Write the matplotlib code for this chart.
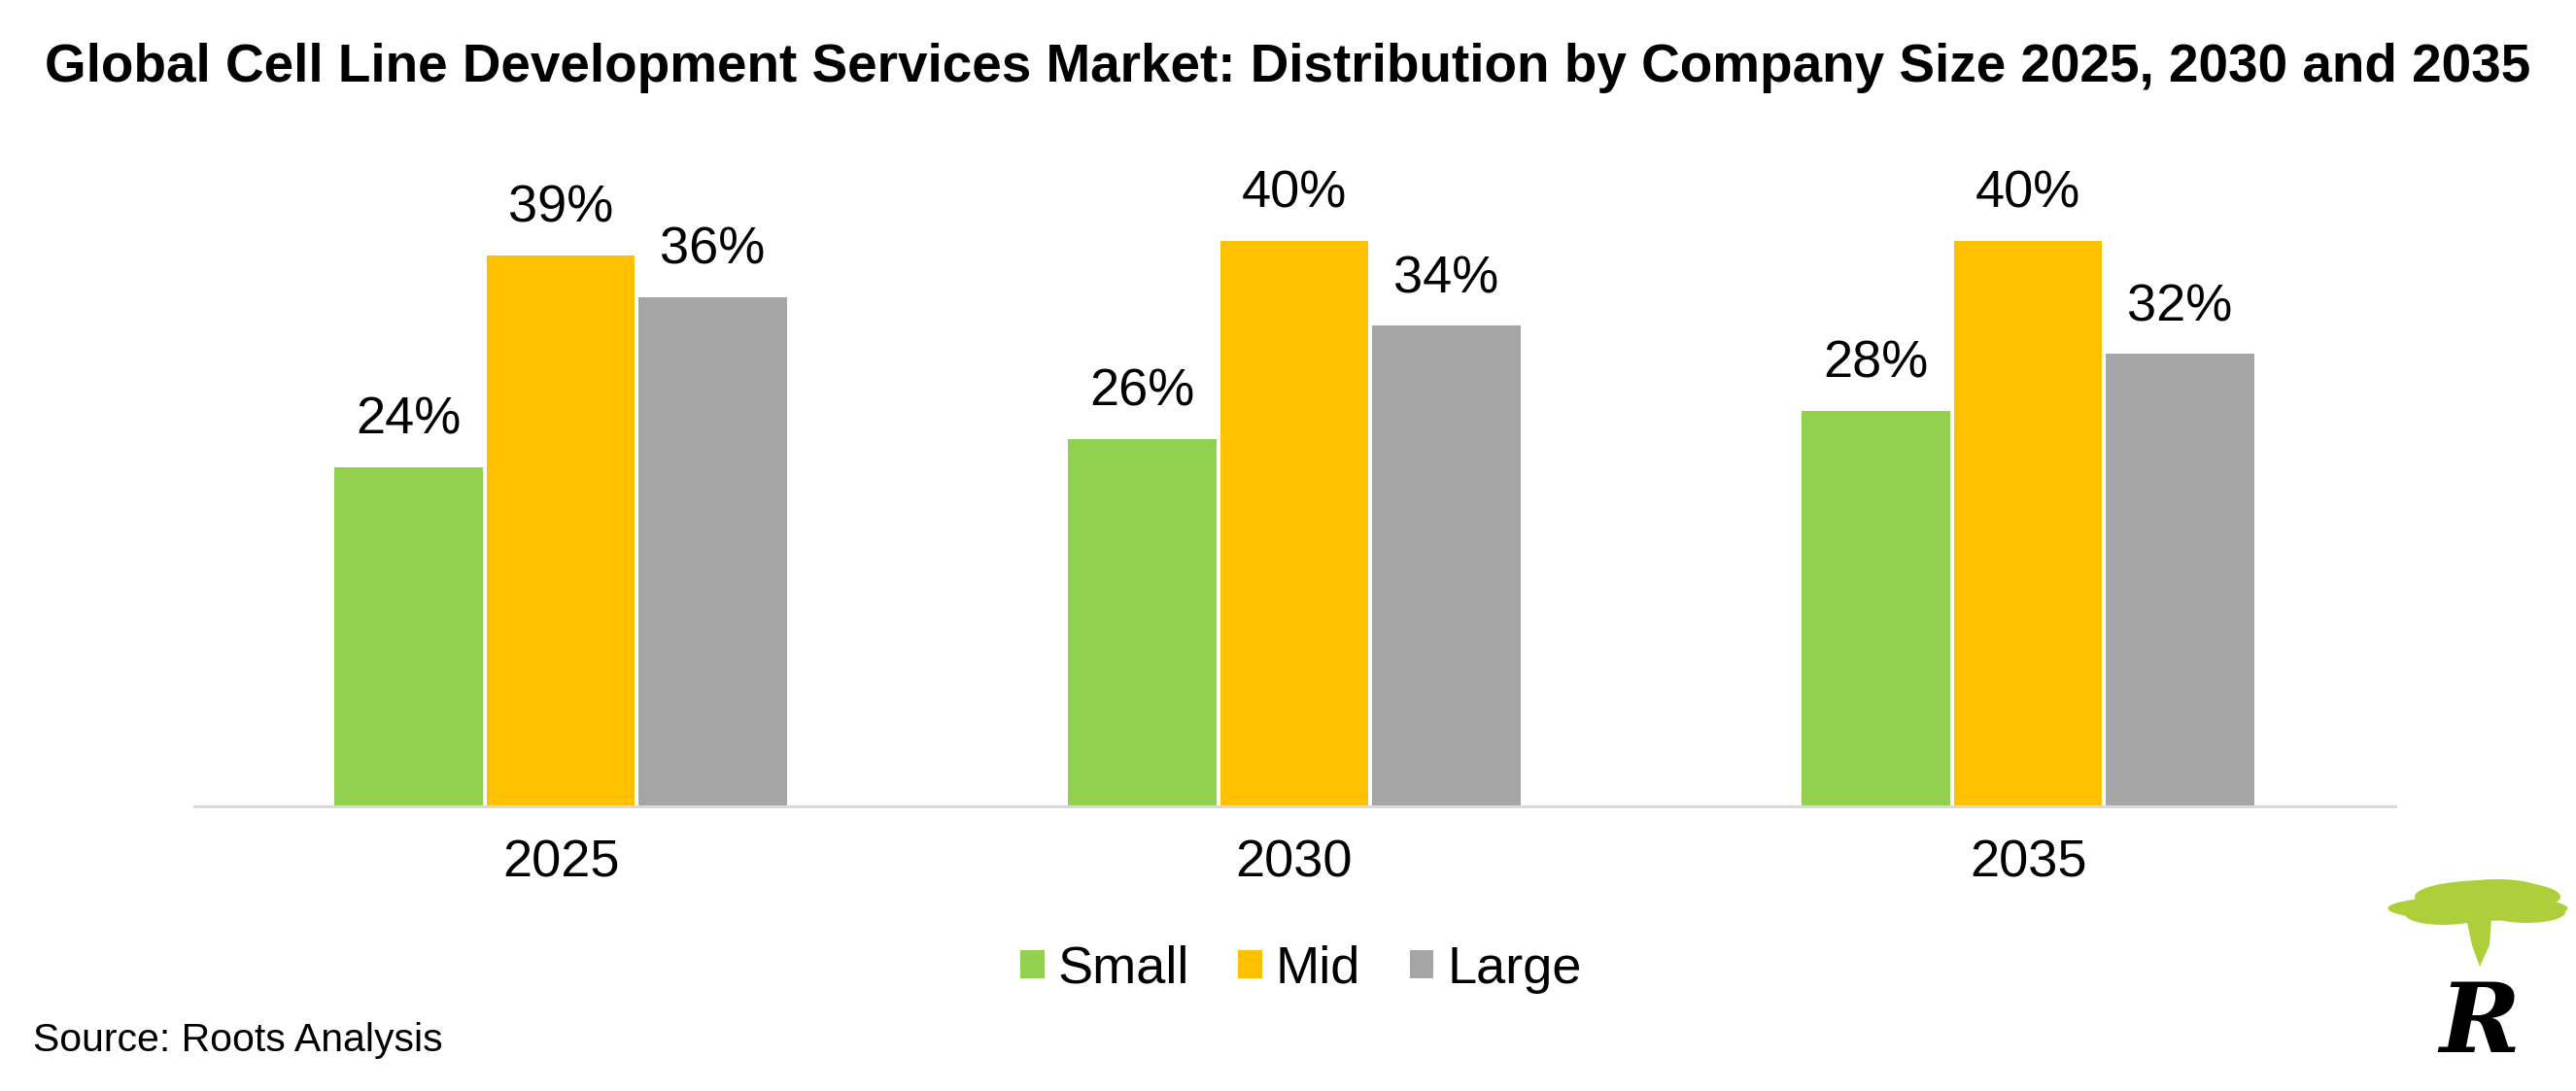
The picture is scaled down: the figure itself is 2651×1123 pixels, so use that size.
import matplotlib
matplotlib.use("Agg")
import matplotlib.pyplot as plt
from matplotlib.patches import Patch, Ellipse
import numpy as np

plt.rcParams['font.family'] = ['Liberation Sans', 'DejaVu Sans']

years = ["2025", "2030", "2035"]
series = ["Small", "Mid", "Large"]
small = [24, 26, 28]
mid = [39, 40, 40]
large = [36, 34, 32]
colors = ["#92D050", "#FFC000", "#A5A5A5"]
title = "Global Cell Line Development Services Market: Distribution by Company Size 2025, 2030 and 2035"
source = "Source: Roots Analysis"

W, H = 2651, 1123
fig = plt.figure(figsize=(W / 100, H / 100), dpi=100)
ax = fig.add_axes([199.5 / W, 293 / H, 2265 / W, 654.75 / H])

x = np.arange(len(years))
bw = 0.2026
off = 0.2074
values = [small, mid, large]
for i, (vals, c) in enumerate(zip(values, colors)):
    pos = x + (i - 1) * off
    ax.bar(pos, vals, width=bw, color=c, zorder=2)
    for p, v in zip(pos, vals):
        ax.text(p, v + 1.6, f"{v}%", ha="center", va="bottom", fontsize=39, color="black")

ax.set_xlim(-0.5, 2.5)
ax.set_ylim(0, 45)
for s in ["top", "right", "left"]:
    ax.spines[s].set_visible(False)
ax.spines["bottom"].set_color("#D9D9D9")
ax.spines["bottom"].set_linewidth(2.2)
ax.set_yticks([])
ax.set_xticks(x)
ax.set_xticklabels(years, fontsize=39)
ax.tick_params(axis="x", length=0, pad=24)

fig.text(0.5, 1 - 70 / H, title, ha="center", va="center", fontsize=39.5, fontweight="bold")
fig.text(34 / W, 1 - 1071 / H, source, ha="left", va="center", fontsize=29.5)

handles = [Patch(facecolor=c, edgecolor="none") for c in colors]
fig.legend(handles, series, loc="center", bbox_to_anchor=(0.505, 1 - 998 / H), ncol=3,
           frameon=False, fontsize=39, handlelength=0.45, handleheight=0.45,
           handletextpad=0.26, columnspacing=0.93)

# logo
lax = fig.add_axes([2440 / W, 0, 211 / W, 230 / H])
lax.set_xlim(0, 211)
lax.set_ylim(0, 230)
lax.axis("off")
green = "#ADCF3A"
for (cx, cy, w, h) in [(120, 200, 150, 34), (110, 188, 185, 26), (75, 182, 80, 22), (160, 184, 80, 22),
                       (130, 207, 90, 22)]:
    lax.add_patch(Ellipse((cx, cy), w, h, color=green, lw=0))
lax.fill([98, 124, 122, 112, 104], [178, 178, 150, 128, 150], color=green, lw=0)
lax.text(112, 68, "R", fontsize=72, fontstyle="italic", fontweight="bold", family="DejaVu Serif",
         ha="center", va="center", color="black")

fig.savefig("out.png", dpi=100)
